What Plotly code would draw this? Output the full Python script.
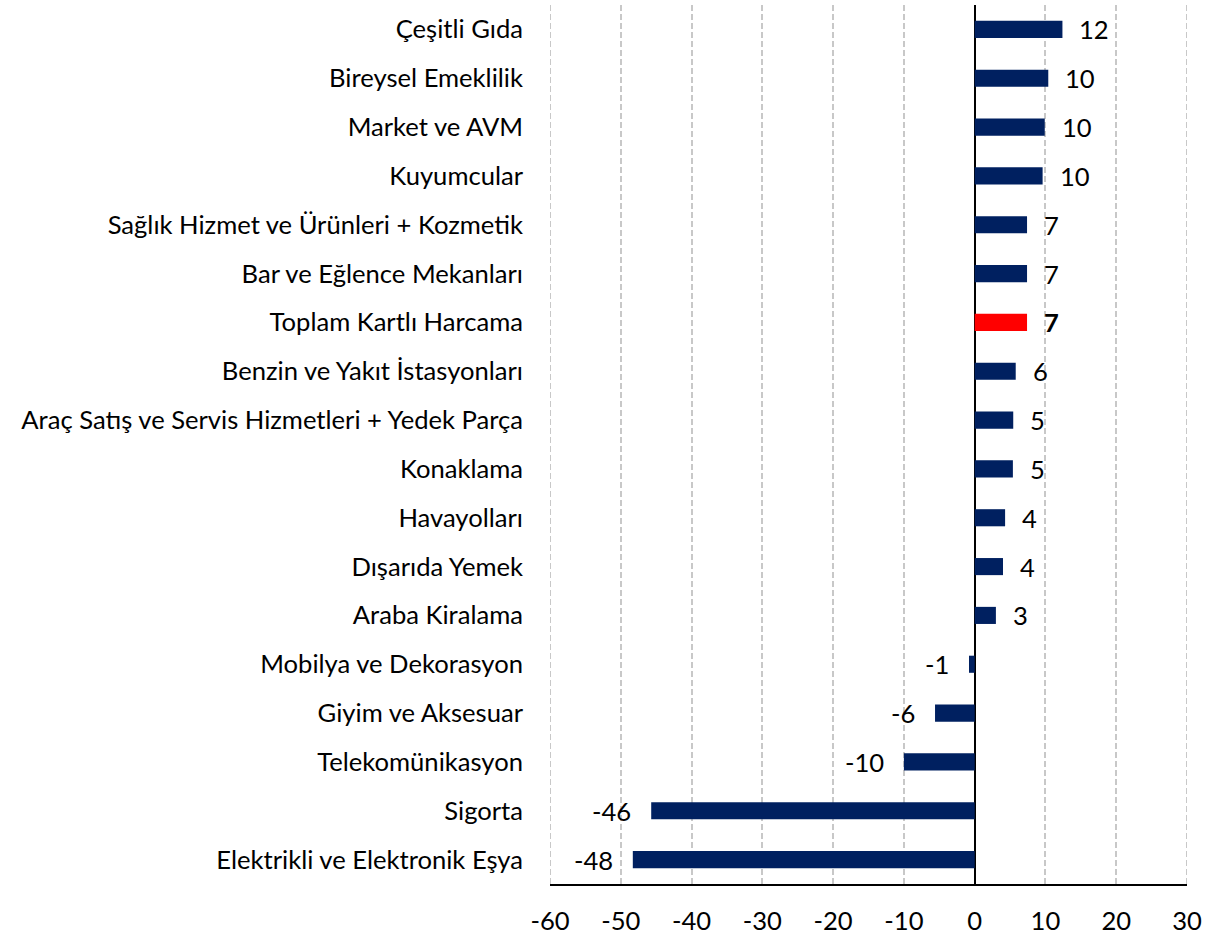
"""Kartlı harcama değişimi, sektör bazında (yatay çubuk grafik)."""

import plotly.graph_objects as go

SECTORS = [
    "Çeşitli Gıda",
    "Bireysel Emeklilik",
    "Market ve AVM",
    "Kuyumcular",
    "Sağlık Hizmet ve Ürünleri + Kozmetik",
    "Bar ve Eğlence Mekanları",
    "Toplam Kartlı Harcama",
    "Benzin ve Yakıt İstasyonları",
    "Araç Satış ve Servis Hizmetleri + Yedek Parça",
    "Konaklama",
    "Havayolları",
    "Dışarıda Yemek",
    "Araba Kiralama",
    "Mobilya ve Dekorasyon",
    "Giyim ve Aksesuar",
    "Telekomünikasyon",
    "Sigorta",
    "Elektrikli ve Elektronik Eşya",
]
CHANGE = [12.4, 10.4, 9.9, 9.6, 7.4, 7.4, 7.4, 5.8, 5.45, 5.4, 4.3, 4.0, 3.0,
          -0.8, -5.6, -10.0, -45.7, -48.3]
TOTAL = "Toplam Kartlı Harcama"

X_TICKS = [-60, -50, -40, -30, -20, -10, 0, 10, 20, 30]

NAVY = "#002060"
RED = "#FF0000"
GRID = "#C8C8C8"
DASH = "6px,3px"
FONT = "Lato"
SIZE = 25.6

colors = [RED if s == TOTAL else NAVY for s in SECTORS]

fig = go.Figure()
fig.add_trace(
    go.Bar(
        x=CHANGE,
        y=SECTORS,
        orientation="h",
        marker=dict(color=colors, line=dict(width=0)),
        width=0.35,
        hoverinfo="x+y",
    )
)

# value labels next to the bar ends
for sector, val in zip(SECTORS, CHANGE):
    txt = f"{round(val):.0f}"
    if sector == TOTAL:
        txt = f"<b>{txt}</b>"
    fig.add_annotation(
        x=val,
        y=sector,
        text=txt,
        showarrow=False,
        xanchor="left" if val >= 0 else "right",
        xshift=15 if val >= 0 else -18,
        font=dict(family=FONT, size=SIZE, color="#000000"),
    )

# plotly skips gridlines sitting on the plot edges, draw those two by hand
for edge in (X_TICKS[0], X_TICKS[-1]):
    fig.add_vline(x=edge, line=dict(color=GRID, width=2, dash=DASH), layer="below")

fig.update_layout(
    width=1216,
    height=937,
    margin=dict(l=550, r=29, t=5, b=53),
    paper_bgcolor="white",
    plot_bgcolor="white",
    showlegend=False,
    font=dict(family=FONT, size=SIZE, color="#000000"),
)
fig.update_xaxes(
    range=[-60, 30],
    tickvals=X_TICKS,
    ticktext=[str(t) for t in X_TICKS],
    showgrid=True,
    gridcolor=GRID,
    griddash=DASH,
    gridwidth=2,
    zeroline=True,
    zerolinecolor="#000000",
    zerolinewidth=2,
    showline=True,
    linecolor="#000000",
    linewidth=2,
    ticks="",
    ticklabelstandoff=13,
    tickfont=dict(family=FONT, size=SIZE),
    automargin=False,
)
fig.update_yaxes(
    autorange="reversed",
    showgrid=False,
    showline=False,
    ticks="",
    ticklabelstandoff=26,
    tickfont=dict(family=FONT, size=SIZE),
    automargin=False,
)

fig.write_html(
    "out.html",
    config={"displayModeBar": False},
    post_script="document.body.style.margin='0px';",
)
